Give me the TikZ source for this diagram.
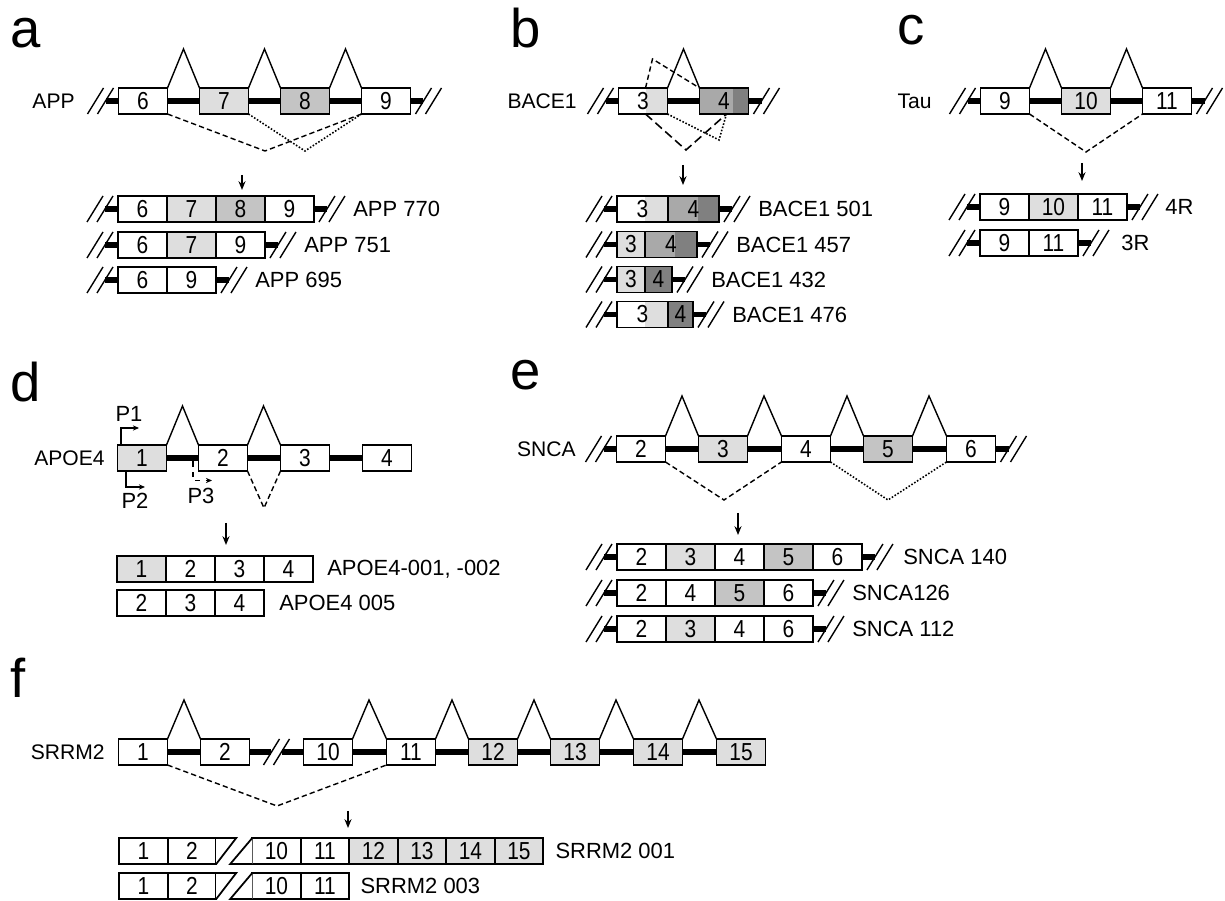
\documentclass[tikz,border=0pt]{standalone}
\usepackage{fontspec}
\setmainfont{Liberation Sans}
\newfontfamily\narrowfont[FakeStretch=0.85]{Liberation Sans}
\usetikzlibrary{positioning,arrows.meta}

\definecolor{exlight}{HTML}{DEDEDE}
\definecolor{exmid}{HTML}{C4C4C4}
\definecolor{bacemid}{HTML}{A9A9A9}
\definecolor{bacedark}{HTML}{808080}

\tikzset{brk/.pic={
    \draw[line width=0.8pt] (-13,13) -- (3,-13);
    \draw[line width=0.8pt] (-3,13) -- (13,-13);}}

\begin{document}
\begin{tikzpicture}[x=0.02cm,y=-0.02cm,
    exon/.style ={draw, line width=1pt, fill=white, minimum width=0.98cm, minimum height=0.52cm,
                  inner sep=0pt, outer sep=0pt, font=\narrowfont\fontsize{14}{16}\selectfont},
    fcell/.style ={exon, minimum width=0.97cm},
    halves/.style n args={3}{fill=#2, path picture={\fill[#3] ([xshift=#1]path picture bounding box.south west) rectangle (path picture bounding box.north east);}},
    cellline/.style ={line width=1pt, fill=white},
    intron/.style ={line width=3.3pt},
    splice/.style ={line width=0.8pt},
    skip/.style ={line width=0.8pt, dash pattern=on 3pt off 1.8pt},
    skipdot/.style ={line width=0.9pt, dash pattern=on 0.9pt off 1pt},
    skiplong/.style ={line width=0.9pt, dash pattern=on 5pt off 2.5pt},
    down/.style ={line width=0.75pt, -{Stealth[length=5pt,width=4pt]}},
    promoter/.style ={line width=0.75pt, -{Stealth[length=3.5pt,width=3pt]}},
    gene/.style ={anchor=east, inner sep=0pt, font=\fontsize{12}{14}\selectfont},
    iso/.style ={inner sep=0pt, font=\fontsize{12.5}{15}\selectfont},
    plabel/.style ={inner sep=0pt, font=\fontsize{12.5}{15}\selectfont},
    panel/.style ={anchor=base west, inner sep=0pt, font=\fontsize{31}{33}\selectfont}]
   \useasboundingbox (0,0) rectangle (1225,901);

   % a: APP
   \node[panel] (la) at (10,48) {a};
   \node[gene] (app) at (75,101) {APP};
   \node[exon] (a6) at (143,101) {6};
   \node[exon,fill=exlight] (a7) at (224,101) {7};
   \node[exon,fill=exmid] (a8) at (305,101) {8};
   \node[exon] (a9) at (386,101) {9};
   \draw[intron] (a6.east) -- (a7.west);
   \draw[intron] (a7.east) -- (a8.west);
   \draw[intron] (a8.east) -- (a9.west);
   \draw[intron] (a6.west) -- ++(-13,0) ++(-5,0) pic {brk};
   \draw[intron] (a9.east) -- ++(13,0) ++(5,0) pic {brk};
   \draw[splice] (a6.north east) -- ++(16,-39) -- (a7.north west);
   \draw[splice] (a7.north east) -- ++(16,-39) -- (a8.north west);
   \draw[splice] (a8.north east) -- ++(16,-39) -- (a9.north west);
   \draw[skip] (a6.south east) -- (265,151) -- (a9.south west);
   \draw[skipdot] (a7.south east) -- (305,151) -- (a9.south west);
   \draw[down] (242,175) -- ++(0,15);

   \node[exon] (a770-6) at (142.5,209) {6};
   \node[exon,fill=exlight,right=0pt of a770-6] (a770-7) {7};
   \node[exon,fill=exmid,right=0pt of a770-7] (a770-8) {8};
   \node[exon,right=0pt of a770-8] (a770-9) {9};
   \draw[intron] (a770-6.west) -- ++(-13,0) ++(-5,0) pic {brk};
   \draw[intron] (a770-9.east) -- ++(13,0) ++(5,0) pic {brk};
   \node[iso,right=0.78cm of a770-9] (t770) {APP 770};

   \node[exon] (a751-6) at (142.5,245) {6};
   \node[exon,fill=exlight,right=0pt of a751-6] (a751-7) {7};
   \node[exon,right=0pt of a751-7] (a751-9) {9};
   \draw[intron] (a751-6.west) -- ++(-13,0) ++(-5,0) pic {brk};
   \draw[intron] (a751-9.east) -- ++(13,0) ++(5,0) pic {brk};
   \node[iso,right=0.78cm of a751-9] (t751) {APP 751};

   \node[exon] (a695-6) at (142.5,280) {6};
   \node[exon,right=0pt of a695-6] (a695-9) {9};
   \draw[intron] (a695-6.west) -- ++(-13,0) ++(-5,0) pic {brk};
   \draw[intron] (a695-9.east) -- ++(13,0) ++(5,0) pic {brk};
   \node[iso,right=0.78cm of a695-9] (t695) {APP 695};

   % b: BACE1
   \node[panel] (lb) at (510,48) {b};
   \node[gene] (bace) at (577,101) {BACE1};
   \node[exon,halves={0.54cm}{white}{exlight}] (b3) at (643,101) {3};
   \node[exon,halves={0.66cm}{bacemid}{bacedark}] (b4) at (724,101) {4};
   \draw[intron] (b3.east) -- (b4.west);
   \draw[intron] (b3.west) -- ++(-13,0) ++(-5,0) pic {brk};
   \draw[intron] (b4.east) -- ++(13,0) ++(5,0) pic {brk};
   \draw[splice] (b3.north east) -- ++(16,-39) -- (b4.north west);
   \draw[skip] ([xshift=0.54cm]b3.north west) -- ++(7,-29) -- (b4.north west);
   \draw[skiplong] ([xshift=0.54cm]b3.south west) -- (686,150) -- ([xshift=0.54cm]b4.south west);
   \draw[skipdot] (b3.south east) -- (719,140) -- ([xshift=0.54cm]b4.south west);
   \draw[down] (683,165) -- ++(0,20);

   \node[exon,minimum width=1.02cm,halves={0.56cm}{white}{exlight}] (b501-3) at (642.5,209) {3};
   \node[exon,minimum width=1.02cm,halves={0.6cm}{bacemid}{bacedark},right=0pt of b501-3] (b501-4) {4};
   \draw[intron] (b501-3.west) -- ++(-13,0) ++(-5,0) pic {brk};
   \draw[intron] (b501-4.east) -- ++(13,0) ++(5,0) pic {brk};
   \node[iso,right=0.78cm of b501-4] (t501) {BACE1 501};

   \node[exon,minimum width=0.56cm,fill=exlight] (b457-3) at (631,244.5) {3};
   \node[exon,minimum width=1.04cm,halves={0.6cm}{bacemid}{bacedark},right=0pt of b457-3] (b457-4) {4};
   \draw[intron] (b457-3.west) -- ++(-13,0) ++(-5,0) pic {brk};
   \draw[intron] (b457-4.east) -- ++(13,0) ++(5,0) pic {brk};
   \node[iso,right=0.78cm of b457-4] (t457) {BACE1 457};

   \node[exon,minimum width=0.56cm,fill=exlight] (b432-3) at (631,279.5) {3};
   \node[exon,minimum width=0.54cm,fill=bacedark,right=0pt of b432-3] (b432-4) {4};
   \draw[intron] (b432-3.west) -- ++(-13,0) ++(-5,0) pic {brk};
   \draw[intron] (b432-4.east) -- ++(13,0) ++(5,0) pic {brk};
   \node[iso,right=0.78cm of b432-4] (t432) {BACE1 432};

   \node[exon,minimum width=1.02cm,halves={0.56cm}{white}{exlight}] (b476-3) at (642.5,314.5) {3};
   \node[exon,minimum width=0.5cm,fill=bacedark,right=0pt of b476-3] (b476-4) {4};
   \draw[intron] (b476-3.west) -- ++(-13,0) ++(-5,0) pic {brk};
   \draw[intron] (b476-4.east) -- ++(13,0) ++(5,0) pic {brk};
   \node[iso,right=0.78cm of b476-4] (t476) {BACE1 476};

   % c: Tau
   \node[panel] (lc) at (897,45) {c};
   \node[gene] (tau) at (932,101) {Tau};
   \node[exon] (c9) at (1005,101) {9};
   \node[exon,fill=exlight] (c10) at (1086,101) {10};
   \node[exon] (c11) at (1167,101) {11};
   \draw[intron] (c9.east) -- (c10.west);
   \draw[intron] (c10.east) -- (c11.west);
   \draw[intron] (c9.west) -- ++(-13,0) ++(-5,0) pic {brk};
   \draw[intron] (c11.east) -- ++(13,0) ++(5,0) pic {brk};
   \draw[splice] (c9.north east) -- ++(16,-39) -- (c10.north west);
   \draw[splice] (c10.north east) -- ++(16,-39) -- (c11.north west);
   \draw[skip] (c9.south east) -- (1086,152) -- (c11.south west);
   \draw[down] (1082,163) -- ++(0,18);

   \node[exon] (c4r-9) at (1004.5,207) {9};
   \node[exon,fill=exlight,right=0pt of c4r-9] (c4r-10) {10};
   \node[exon,right=0pt of c4r-10] (c4r-11) {11};
   \draw[intron] (c4r-9.west) -- ++(-13,0) ++(-5,0) pic {brk};
   \draw[intron] (c4r-11.east) -- ++(13,0) ++(5,0) pic {brk};
   \node[iso,right=0.76cm of c4r-11] (t4r) {4R};

   \node[exon] (c3r-9) at (1004.5,243) {9};
   \node[exon,right=0pt of c3r-9] (c3r-11) {11};
   \draw[intron] (c3r-9.west) -- ++(-13,0) ++(-5,0) pic {brk};
   \draw[intron] (c3r-11.east) -- ++(13,0) ++(5,0) pic {brk};
   \node[iso,right=0.86cm of c3r-11] (t3r) {3R};

   % d: APOE4
   \node[panel] (ld) at (10,402) {d};
   \node[gene] (apoe) at (105,458) {APOE4};
   \node[exon,fill=exlight] (d1) at (142,458) {1};
   \node[exon] (d2) at (223,458) {2};
   \node[exon] (d3) at (305,458) {3};
   \node[exon] (d4) at (387,458) {4};
   \draw[intron] (d1.east) -- (d2.west);
   \draw[intron] (d2.east) -- (d3.west);
   \draw[intron] (d3.east) -- (d4.west);
   \draw[splice] (d1.north east) -- ++(16,-39) -- (d2.north west);
   \draw[splice] (d2.north east) -- ++(16,-39) -- (d3.north west);
   \draw[skip] (d2.south east) -- ++(16.5,37) -- (d3.south west);
   \draw[promoter] ([xshift=0.07cm]d1.north west) -- ++(0,-17) -- ++(18,0);
   \draw[promoter] ([xshift=0.17cm]d1.south west) -- ++(0,16) -- ++(19,0);
   \draw[promoter,dashed] ([xshift=-0.11cm,yshift=-0.07cm]d2.west) -- ++(0,19) -- ++(19,0);
   \node[plabel] (p1) at (129,414) {P1};
   \node[plabel] (p2) at (135,501) {P2};
   \node[plabel] (p3) at (201,496) {P3};
   \draw[down] (226,523) -- ++(0,22);

   \node[exon,fill=exlight] (d001-1) at (141.5,569) {1};
   \node[exon,right=0pt of d001-1] (d001-2) {2};
   \node[exon,right=0pt of d001-2] (d001-3) {3};
   \node[exon,right=0pt of d001-3] (d001-4) {4};
   \node[iso,right=0.28cm of d001-4] (t001) {APOE4-001, -002};

   \node[exon] (d005-2) at (141.5,603) {2};
   \node[exon,right=0pt of d005-2] (d005-3) {3};
   \node[exon,right=0pt of d005-3] (d005-4) {4};
   \node[iso,right=0.3cm of d005-4] (t005) {APOE4 005};

   % e: SNCA
   \node[panel] (le) at (510,390) {e};
   \node[gene] (snca) at (576,449) {SNCA};
   \node[exon] (e2) at (641,449) {2};
   \node[exon,fill=exlight] (e3) at (723,449) {3};
   \node[exon] (e4) at (806,449) {4};
   \node[exon,fill=exmid] (e5) at (888,449) {5};
   \node[exon] (e6) at (971,449) {6};
   \draw[intron] (e2.east) -- (e3.west);
   \draw[intron] (e3.east) -- (e4.west);
   \draw[intron] (e4.east) -- (e5.west);
   \draw[intron] (e5.east) -- (e6.west);
   \draw[intron] (e2.west) -- ++(-13,0) ++(-5,0) pic {brk};
   \draw[intron] (e6.east) -- ++(13,0) ++(5,0) pic {brk};
   \draw[splice] (e2.north east) -- ++(16.5,-40) -- (e3.north west);
   \draw[splice] (e3.north east) -- ++(16.5,-40) -- (e4.north west);
   \draw[splice] (e4.north east) -- ++(16.5,-40) -- (e5.north west);
   \draw[splice] (e5.north east) -- ++(16.5,-40) -- (e6.north west);
   \draw[skip] (e2.south east) -- (724,500) -- (e4.south west);
   \draw[skipdot] (e4.south east) -- (888,500) -- (e6.south west);
   \draw[down] (738,513) -- ++(0,22);

   \node[exon] (e140-2) at (641.5,557) {2};
   \node[exon,fill=exlight,right=0pt of e140-2] (e140-3) {3};
   \node[exon,right=0pt of e140-3] (e140-4) {4};
   \node[exon,fill=exmid,right=0pt of e140-4] (e140-5) {5};
   \node[exon,right=0pt of e140-5] (e140-6) {6};
   \draw[intron] (e140-2.west) -- ++(-13,0) ++(-5,0) pic {brk};
   \draw[intron] (e140-6.east) -- ++(13,0) ++(5,0) pic {brk};
   \node[iso,right=0.82cm of e140-6] (t140) {SNCA 140};

   \node[exon] (e126-2) at (641.5,593) {2};
   \node[exon,right=0pt of e126-2] (e126-4) {4};
   \node[exon,fill=exmid,right=0pt of e126-4] (e126-5) {5};
   \node[exon,right=0pt of e126-5] (e126-6) {6};
   \draw[intron] (e126-2.west) -- ++(-13,0) ++(-5,0) pic {brk};
   \draw[intron] (e126-6.east) -- ++(13,0) ++(5,0) pic {brk};
   \node[iso,right=0.78cm of e126-6] (t126) {SNCA126};

   \node[exon] (e112-2) at (641.5,629) {2};
   \node[exon,fill=exlight,right=0pt of e112-2] (e112-3) {3};
   \node[exon,right=0pt of e112-3] (e112-4) {4};
   \node[exon,right=0pt of e112-4] (e112-6) {6};
   \draw[intron] (e112-2.west) -- ++(-13,0) ++(-5,0) pic {brk};
   \draw[intron] (e112-6.east) -- ++(13,0) ++(5,0) pic {brk};
   \node[iso,right=0.78cm of e112-6] (t112) {SNCA 112};

   % f: SRRM2
   \node[panel] (lf) at (10,698) {f};
   \node[gene] (srrm) at (105,752) {SRRM2};
   \node[exon] (f1) at (143,752) {1};
   \node[exon] (f2) at (225,752) {2};
   \node[exon] (f10) at (328,752) {10};
   \node[exon] (f11) at (411,752) {11};
   \node[exon,fill=exlight] (f12) at (493,752) {12};
   \node[exon,fill=exlight] (f13) at (575,752) {13};
   \node[exon,fill=exlight] (f14) at (658,752) {14};
   \node[exon,fill=exlight] (f15) at (741,752) {15};
   \draw[intron] (f1.east) -- (f2.west);
   \draw[intron] (f2.east) -- ++(22,0) ++(5,0) pic {brk};
   \draw[intron] (f10.west) -- ++(-22,0);
   \draw[intron] (f10.east) -- (f11.west);
   \draw[intron] (f11.east) -- (f12.west);
   \draw[intron] (f12.east) -- (f13.west);
   \draw[intron] (f13.east) -- (f14.west);
   \draw[intron] (f14.east) -- (f15.west);
   \draw[splice] (f1.north east) -- ++(16.5,-39) -- (f2.north west);
   \draw[splice] (f10.north east) -- ++(16.5,-39) -- (f11.north west);
   \draw[splice] (f11.north east) -- ++(16.5,-39) -- (f12.north west);
   \draw[splice] (f12.north east) -- ++(16.5,-39) -- (f13.north west);
   \draw[splice] (f13.north east) -- ++(16.5,-39) -- (f14.north west);
   \draw[splice] (f14.north east) -- ++(16.5,-39) -- (f15.north west);
   \draw[skip] (f1.south east) -- (277,806) -- (f11.south west);
   \draw[down] (348,811) -- ++(0,17);

   \node[fcell] (f001-1) at (143.5,851) {1};
   \node[fcell,right=0pt of f001-1] (f001-2) {2};
   \node[fcell] (f001-10) at (276.5,851) {10};
   \node[fcell,right=0pt of f001-10] (f001-11) {11};
   \node[fcell,fill=exlight,right=0pt of f001-11] (f001-12) {12};
   \node[fcell,fill=exlight,right=0pt of f001-12] (f001-13) {13};
   \node[fcell,fill=exlight,right=0pt of f001-13] (f001-14) {14};
   \node[fcell,fill=exlight,right=0pt of f001-14] (f001-15) {15};
   \draw[cellline] (f001-2.north east) -- ++(20,0) -- (f001-2.south east);
   \draw[cellline] (f001-10.south west) -- ++(-22,0) -- (f001-10.north west);
   \node[iso,right=0.24cm of f001-15] (tf001) {SRRM2 001};

   \node[fcell] (f003-1) at (143.5,886) {1};
   \node[fcell,right=0pt of f003-1] (f003-2) {2};
   \node[fcell] (f003-10) at (276.5,886) {10};
   \node[fcell,right=0pt of f003-10] (f003-11) {11};
   \draw[cellline] (f003-2.north east) -- ++(20,0) -- (f003-2.south east);
   \draw[cellline] (f003-10.south west) -- ++(-22,0) -- (f003-10.north west);
   \node[iso,right=0.22cm of f003-11] (tf003) {SRRM2 003};
 \end{tikzpicture}
\end{document}
